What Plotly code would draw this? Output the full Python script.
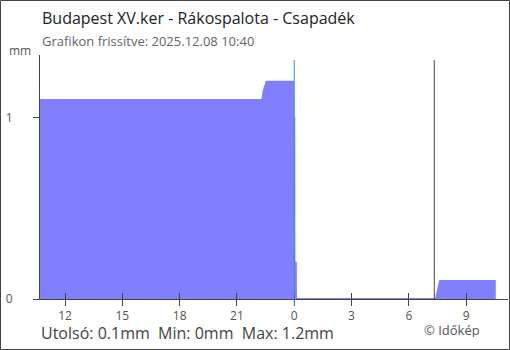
import plotly.graph_objects as go

# ---- data (hours relative to midnight, precipitation in mm) ----
hours = [-13.5, -1.67, -1.6, -1.5, -1.45, -0.07, -0.06, 0.0, 0.01, 0.08, 0.09,
         7.42, 7.63, 10.55]
precip = [1.1, 1.1, 1.15, 1.18, 1.2, 1.2, 1.0, 1.0, 0.2, 0.2, 0.0,
          0.0, 0.1, 0.1]
tick_hours = [-12, -9, -6, -3, 0, 3, 6, 9]
tick_labels = ["12", "15", "18", "21", "0", "3", "6", "9"]
y_ticks = [0, 1]
midnight = 0
sunrise = 7.33
x_range = [-13.31, 11.19]
y_range = [0, 1.348]

title = "Budapest XV.ker - Rákospalota - Csapadék"
subtitle = "Grafikon frissítve: 2025.12.08 10:40"
unit = "mm"
summary = "Utolsó: 0.1mm  Min: 0mm  Max: 1.2mm"
credit = "© Időkép"

W, H = 510, 350
L, R, T, B = 40, 2, 55, 51
PW, PH = W - L - R, H - T - B


def px(x):
    return (x - L) / PW


def py(y):
    return (H - B - y) / PH


FONT = "Open Sans"
FILL = "rgb(128,128,255)"
AX = "#444"

fig = go.Figure()
# empty trace keeps the base subplot (inside ticks drawn under the fill)
fig.add_trace(go.Scatter(x=[], y=[], xaxis="x", yaxis="y", showlegend=False))
fig.add_trace(go.Scatter(
    x=hours, y=precip, mode="lines", fill="tozeroy",
    line=dict(color=FILL, width=2), fillcolor=FILL,
    xaxis="x2", yaxis="y", showlegend=False, hoverinfo="skip"))

common_x = dict(range=x_range, tickvals=tick_hours, ticktext=tick_labels,
                showgrid=False, zeroline=False, ticklen=6, tickcolor=AX,
                tickwidth=1, fixedrange=True)

fig.update_layout(
    width=W, height=H,
    margin=dict(l=L, r=R, t=T, b=B),
    paper_bgcolor="white", plot_bgcolor="white",
    font=dict(family=FONT, color="#555", size=12),
    xaxis=dict(**common_x, ticks="inside", showticklabels=False,
               showline=False),
    xaxis2=dict(**common_x, ticks="outside", overlaying="x", anchor="y",
                side="bottom", showline=True, linecolor=AX, linewidth=1,
                tickfont=dict(family=FONT, size=12, color="#555")),
    yaxis=dict(range=y_range, tickvals=y_ticks, ticks="outside", ticklen=6,
               tickcolor=AX, showline=True, linecolor=AX, linewidth=1,
               showgrid=False, zeroline=False, ticklabelstandoff=18,
               tickfont=dict(family=FONT, size=12, color="#555"),
               fixedrange=True),
    shapes=[
        dict(type="line", xref="x", yref="paper", x0=midnight, x1=midnight,
             y0=py(306), y1=py(60), line=dict(color="rgb(60,140,200)", width=1),
             layer="above"),
        dict(type="line", xref="x", yref="paper", x0=sunrise, x1=sunrise,
             y0=0, y1=py(60), line=dict(color=AX, width=1), layer="above"),
        dict(type="rect", xref="paper", yref="paper",
             x0=px(0.5), x1=px(W - 0.5), y0=py(H - 0.5), y1=py(0.5),
             line=dict(color=AX, width=1), layer="above"),
    ],
    annotations=[
        dict(text=title, xref="paper", yref="paper", x=px(40), y=py(18),
             xanchor="left", yanchor="middle", showarrow=False,
             font=dict(family=FONT, size=16, color="#222")),
        dict(text=subtitle, xref="paper", yref="paper", x=px(40), y=py(41),
             xanchor="left", yanchor="middle", showarrow=False,
             font=dict(family=FONT, size=13, color="#666")),
        dict(text=unit, xref="paper", yref="paper", x=px(33), y=py(50),
             xanchor="right", yanchor="middle", showarrow=False,
             font=dict(family=FONT, size=12, color="#555")),
        dict(text=summary, xref="paper", yref="paper", x=px(40), y=py(333),
             xanchor="left", yanchor="middle", showarrow=False,
             height=16, borderpad=0,
             font=dict(family=FONT, size=16, color="#444")),
        dict(text=credit, xref="paper", yref="paper", x=px(481), y=py(330),
             xanchor="right", yanchor="middle", showarrow=False,
             height=14, borderpad=0,
             font=dict(family=FONT, size=13, color="#555")),
    ],
)

fig.write_html("out.html", config={"displayModeBar": False})
